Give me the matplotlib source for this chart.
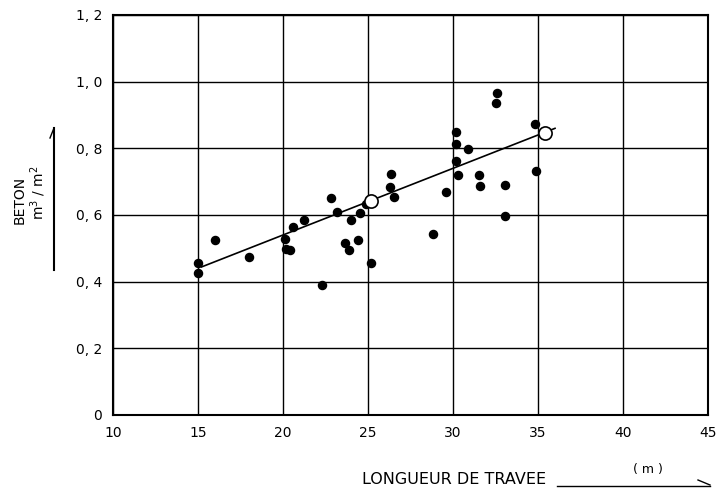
import numpy as np
import matplotlib.pyplot as plt

# span length (m) vs concrete quantity (m3/m2)
span = [15.0, 15.0, 16.0, 18.0, 20.1, 20.2, 20.4, 20.6, 21.25, 22.3,
        22.8, 23.15, 23.65, 23.9, 24.0, 24.4, 24.55, 24.9, 25.15, 26.3,
        26.35, 26.5, 28.8, 29.6, 30.2, 30.2, 30.2, 30.3, 30.9, 31.5,
        31.6, 32.5, 32.6, 33.05, 33.05, 34.8, 34.9]
beton = [0.455, 0.425, 0.525, 0.475, 0.527, 0.497, 0.495, 0.565, 0.585, 0.39,
         0.65, 0.61, 0.517, 0.495, 0.585, 0.525, 0.605, 0.632, 0.455, 0.685,
         0.722, 0.655, 0.543, 0.67, 0.85, 0.812, 0.763, 0.72, 0.797, 0.72,
         0.687, 0.935, 0.965, 0.69, 0.598, 0.872, 0.733]

# mean points (open circles) and trend line
mean_x = [25.2, 35.4]
mean_y = [0.642, 0.846]
line_x = [15.2, 36.0]
line_y = [0.444, 0.860]

xticks = [10, 15, 20, 25, 30, 35, 40, 45]
xlabels = ['10', '15', '20', '25', '30', '35', '40', '45']
yticks = [0, 0.2, 0.4, 0.6, 0.8, 1.0, 1.2]
ylabels = ['0', '0, 2', '0, 4', '0, 6', '0, 8', '1, 0', '1, 2']

plt.rcParams['font.family'] = 'DejaVu Sans'
fig = plt.figure(figsize=(7.21, 4.96), dpi=100)
ax = fig.add_axes([113 / 721, 81 / 496, 595 / 721, 400 / 496])

ax.set_xlim(10, 45)
ax.set_ylim(0, 1.2)
ax.set_xticks(xticks)
ax.set_xticklabels(xlabels, fontsize=10)
ax.set_yticks(yticks)
ax.set_yticklabels(ylabels, fontsize=10)
ax.tick_params(length=0, pad=8)
ax.grid(True, color='black', linewidth=1.0)
ax.set_axisbelow(True)
for s in ax.spines.values():
    s.set_linewidth(1.5)

ax.plot(line_x, line_y, color='black', linewidth=1.2, zorder=3)
ax.scatter(span, beton, s=34, color='black', zorder=4)
ax.scatter(mean_x, mean_y, s=90, facecolors='white', edgecolors='black',
           linewidths=1.2, zorder=5)

# y-axis caption with arrow
fig.text(20 / 721, 1 - 200 / 496, 'BETON', rotation=90, ha='center',
         va='center', fontsize=10)
fig.text(38 / 721, 1 - 193 / 496, 'm$^3$ / m$^2$', rotation=90, ha='center',
         va='center', fontsize=10)
fig.add_artist(plt.Line2D([54 / 721, 54 / 721], [1 - 270 / 496, 1 - 128 / 496],
                          color='black', linewidth=1.5))
fig.add_artist(plt.Line2D([50 / 721, 54 / 721], [1 - 138 / 496, 1 - 128 / 496],
                          color='black', linewidth=1.0))

# x-axis caption with arrow
fig.text(362 / 721, 1 - 480 / 496, 'LONGUEUR DE TRAVEE', ha='left',
         va='center', fontsize=11.5)
fig.text(648 / 721, 1 - 470 / 496, '( m )', ha='center', va='center',
         fontsize=9)
fig.add_artist(plt.Line2D([557 / 721, 710 / 721], [1 - 486 / 496, 1 - 486 / 496],
                          color='black', linewidth=1.0))
fig.add_artist(plt.Line2D([698 / 721, 710 / 721], [1 - 480 / 496, 1 - 485 / 496],
                          color='black', linewidth=1.0))

fig.savefig('out.png', dpi=100)
